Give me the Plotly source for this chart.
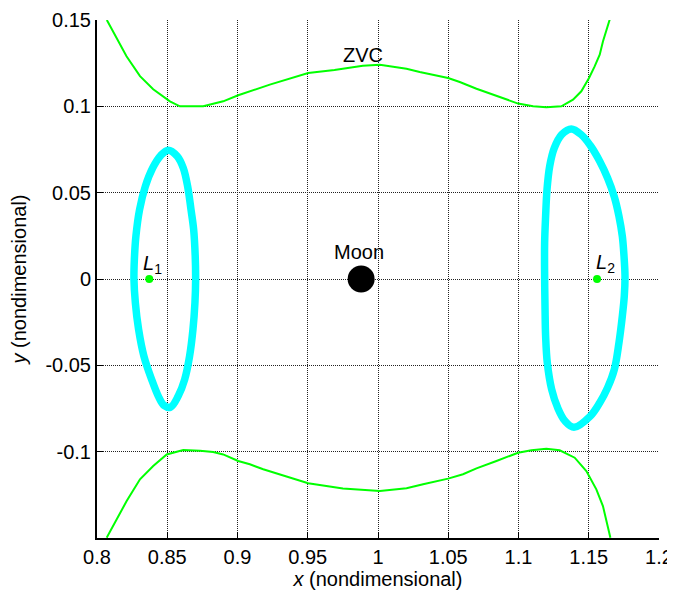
import plotly.graph_objects as go

# Zero-velocity curve (upper and lower branches)
zvc_top_x = [0.8070, 0.8142, 0.8210, 0.8306, 0.8400, 0.8519, 0.8590, 0.8756, 0.8898, 0.9005,
             0.9230, 0.9503, 0.9690, 0.9892, 1.0013, 1.0203, 1.0297, 1.0499, 1.0582, 1.0701,
             1.0843, 1.0997, 1.1104, 1.1198, 1.1305, 1.1388, 1.1447, 1.1502, 1.1542, 1.1578,
             1.1601, 1.1625, 1.1649]
zvc_top_y = [0.1500, 0.1396, 0.1290, 0.1175, 0.1099, 0.1029, 0.1000, 0.1000, 0.1029, 0.1064,
             0.1126, 0.1193, 0.1211, 0.1235, 0.1241, 0.1218, 0.1199, 0.1164, 0.1141, 0.1102,
             0.1062, 0.1016, 0.1000, 0.0994, 0.1000, 0.1039, 0.1087, 0.1164, 0.1231, 0.1299,
             0.1376, 0.1434, 0.1502]

zvc_bot_x = [0.8069, 0.8140, 0.8211, 0.8306, 0.8400, 0.8496, 0.8614, 0.8733, 0.8827, 0.8898,
             0.9005, 0.9088, 0.9183, 0.9503, 0.9750, 1.0013, 1.0203, 1.0321, 1.0499, 1.0605,
             1.0701, 1.0843, 1.0997, 1.1092, 1.1198, 1.1293, 1.1400, 1.1483, 1.1554, 1.1601,
             1.1625, 1.1654]
zvc_bot_y = [-0.1498, -0.1392, -0.1286, -0.1160, -0.1083, -0.1016, -0.0991, -0.0995, -0.1002, -0.1016,
             -0.1054, -0.1073, -0.1102, -0.1183, -0.1213, -0.1228, -0.1212, -0.1189, -0.1156, -0.1131,
             -0.1097, -0.1054, -0.1006, -0.0992, -0.0983, -0.0992, -0.1035, -0.1112, -0.1218, -0.1315,
             -0.1392, -0.1498]

# Lyapunov orbit about L1
orb1_x = [0.8507, 0.8571, 0.8614, 0.8645, 0.8669, 0.8688, 0.8699, 0.8702, 0.8697, 0.8683,
          0.8659, 0.8624, 0.8578, 0.8524, 0.8477, 0.8436, 0.8389, 0.8334, 0.8296, 0.8273,
          0.8263, 0.8266, 0.8277, 0.8303, 0.8344, 0.8396, 0.8453, 0.8507]
orb1_y = [0.0746, 0.0711, 0.0643, 0.0537, 0.0402, 0.0286, 0.0132, 0.0000, -0.0138, -0.0292,
          -0.0447, -0.0582, -0.0678, -0.0742, -0.0732, -0.0678, -0.0582, -0.0447, -0.0292, -0.0138,
          0.0000, 0.0113, 0.0248, 0.0402, 0.0537, 0.0643, 0.0715, 0.0746]

# Lyapunov orbit about L2
orb2_x = [1.1376, 1.1449, 1.1511, 1.1578, 1.1634, 1.1682, 1.1715, 1.1739, 1.1751, 1.1758,
          1.1753, 1.1739, 1.1715, 1.1682, 1.1634, 1.1578, 1.1511, 1.1395, 1.1331, 1.1279,
          1.1236, 1.1205, 1.1193, 1.1189, 1.1186, 1.1186, 1.1193, 1.1203, 1.1222, 1.1255,
          1.1307, 1.1376]
orb2_y = [0.0869, 0.0834, 0.0773, 0.0682, 0.0585, 0.0476, 0.0364, 0.0248, 0.0132, 0.0016,
          -0.0099, -0.0215, -0.0369, -0.0524, -0.0630, -0.0717, -0.0794, -0.0859, -0.0823, -0.0746,
          -0.0639, -0.0485, -0.0331, -0.0177, 0.0016, 0.0209, 0.0364, 0.0518, 0.0653, 0.0759,
          0.0836, 0.0869]

# Points
lagrange_x = [0.8372, 1.1559]
lagrange_y = [0.0, 0.0]
moon_x = [0.9880]
moon_y = [0.0]

x_ticks = [0.8, 0.85, 0.9, 0.95, 1.0, 1.05, 1.1, 1.15, 1.2]
x_ticklabels = ["0.8", "0.85", "0.9", "0.95", "1", "1.05", "1.1", "1.15", "1.2"]
y_ticks = [-0.1, -0.05, 0.0, 0.05, 0.1, 0.15]
y_ticklabels = ["-0.1", "-0.05", "0", "0.05", "0.1", "0.15"]

FONT = "Liberation Sans, Arial, sans-serif"
FS = 20
GREEN = "#00FF00"
CYAN = "#00FFFF"

fig = go.Figure()
fig.add_trace(go.Scatter(x=zvc_top_x, y=zvc_top_y, mode="lines",
                         line=dict(color=GREEN, width=2), showlegend=False))
fig.add_trace(go.Scatter(x=zvc_bot_x, y=zvc_bot_y, mode="lines",
                         line=dict(color=GREEN, width=2), showlegend=False))
fig.add_trace(go.Scatter(x=orb1_x, y=orb1_y, mode="lines",
                         line=dict(color=CYAN, width=7.5, shape="spline"), showlegend=False))
fig.add_trace(go.Scatter(x=orb2_x, y=orb2_y, mode="lines",
                         line=dict(color=CYAN, width=7.5, shape="spline"), showlegend=False))
fig.add_trace(go.Scatter(x=lagrange_x, y=lagrange_y, mode="markers",
                         marker=dict(color=GREEN, size=8), showlegend=False))
fig.add_trace(go.Scatter(x=moon_x, y=moon_y, mode="markers",
                         marker=dict(color="black", size=27), showlegend=False))

ann_font = dict(family=FONT, size=FS, color="black")
fig.add_annotation(x=0.9892, y=0.1300, text="ZVC", showarrow=False, font=ann_font,
                   xanchor="center", yanchor="middle")
fig.add_annotation(x=0.9863, y=0.0155, text="Moon", showarrow=False, font=ann_font,
                   xanchor="center", yanchor="middle")
fig.add_annotation(x=0.8395, y=0.0085, text="<i>L</i><sub>1</sub>", showarrow=False, font=ann_font,
                   xanchor="center", yanchor="middle")
fig.add_annotation(x=1.162, y=0.0090, text="<i>L</i><sub>2</sub>", showarrow=False, font=ann_font,
                   xanchor="center", yanchor="middle")

axis_common = dict(
    showgrid=True, gridcolor="#222222", gridwidth=1, griddash="1px,1px",
    zeroline=False, showline=True, linecolor="black", linewidth=2,
    ticks="inside", ticklen=6, tickcolor="black", tickwidth=1,
    tickfont=dict(family=FONT, size=FS, color="black"),
    mirror=False, automargin=False,
)

# The page body adds an 8px offset, so the figure is sized to fit the window.
fig.update_layout(
    width=667, height=585,
    margin=dict(l=89, r=16, t=12, b=55),
    paper_bgcolor="white", plot_bgcolor="white",
    font=dict(family=FONT, color="black"),
    xaxis=dict(range=[0.8, 1.2], tickvals=x_ticks, ticktext=x_ticklabels,
               title=dict(text="<i>x</i> (nondimensional)", font=dict(family=FONT, size=FS), standoff=2),
               **axis_common),
    yaxis=dict(range=[-0.15, 0.15], tickvals=y_ticks, ticktext=y_ticklabels,
               title=dict(text="<i>y</i> (nondimensional)", font=dict(family=FONT, size=FS), standoff=16),
               **axis_common),
)

fig.write_html("out.html")
